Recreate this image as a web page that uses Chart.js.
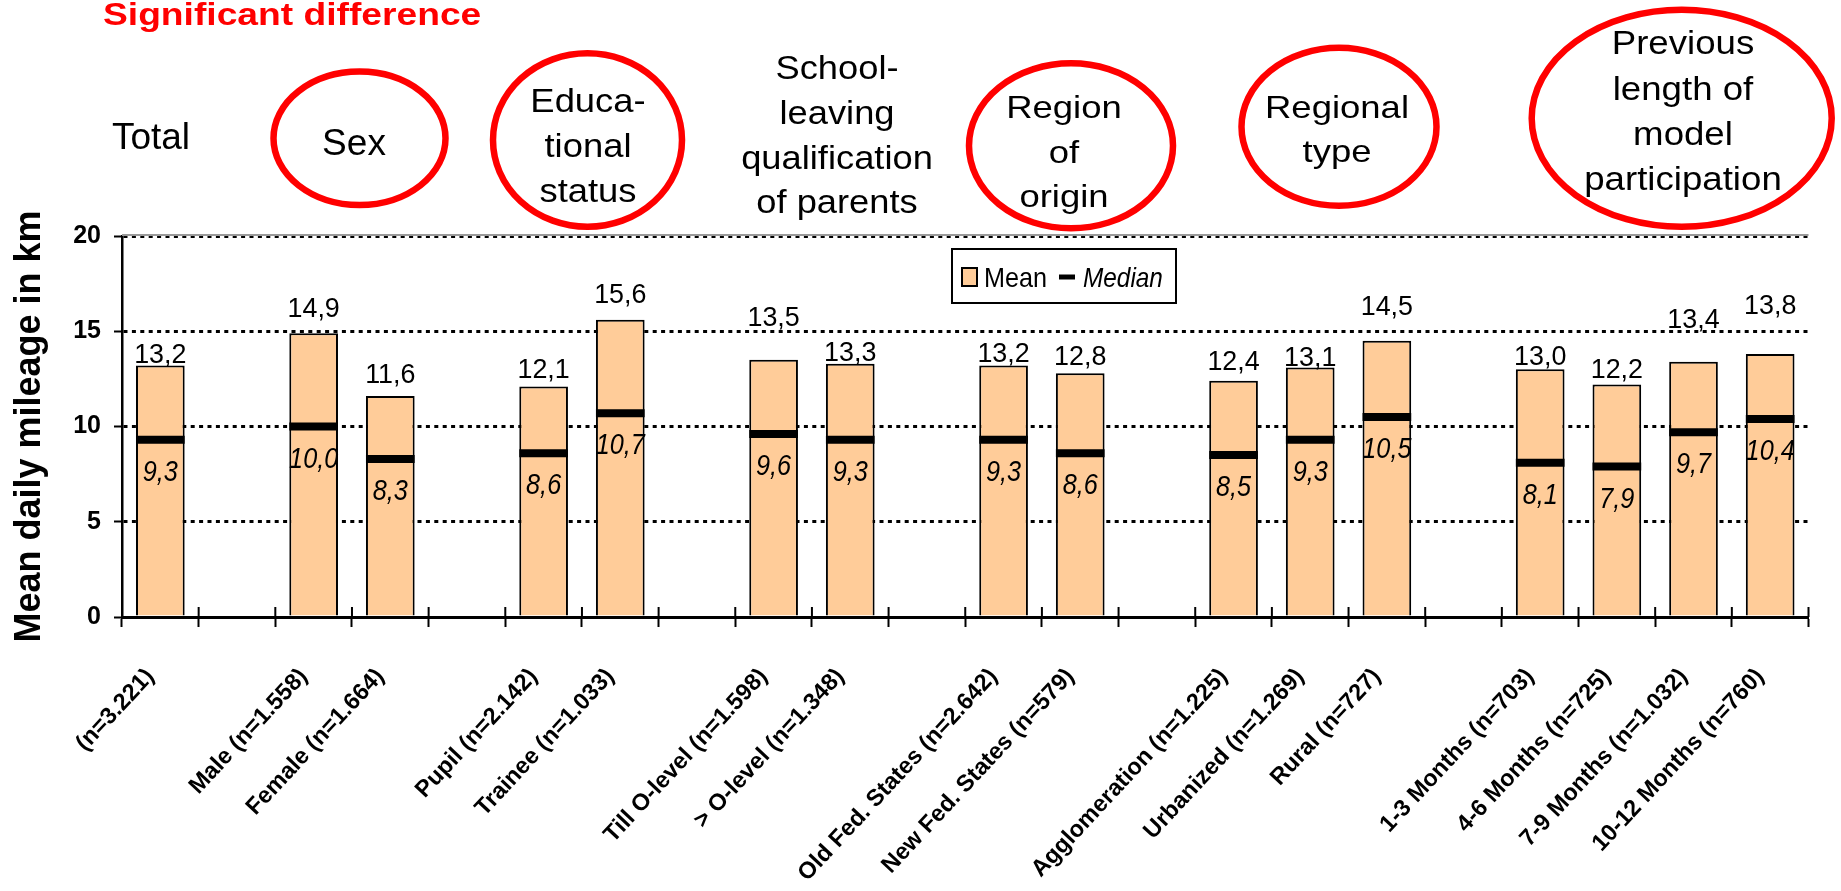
<!DOCTYPE html>
<html>
<head>
<meta charset="utf-8">
<script src="https://cdn.jsdelivr.net/npm/chart.js@4.4.1/dist/chart.umd.min.js"></script>
<style>
html, body { margin: 0; padding: 0; background: #fff; overflow: hidden; }
canvas { display: block; }
</style>
</head>
<body>
<canvas id="chart" width="1841" height="891"></canvas>
<script>
// ---- data -------------------------------------------------------------
const categories = [
  '(n=3.221)', '',
  'Male (n=1.558)', 'Female (n=1.664)', '',
  'Pupil (n=2.142)', 'Trainee (n=1.033)', '',
  'Till O-level (n=1.598)', '> O-level (n=1.348)', '',
  'Old Fed. States (n=2.642)', 'New Fed. States (n=579)', '',
  'Agglomeration (n=1.225)', 'Urbanized (n=1.269)', 'Rural (n=727)', '',
  '1-3 Months (n=703)', '4-6 Months (n=725)', '7-9 Months (n=1.032)', '10-12 Months (n=760)'
];
const meanKm = [13.2, null, 14.9, 11.6, null, 12.1, 15.6, null, 13.5, 13.3, null,
                13.2, 12.8, null, 12.4, 13.1, 14.5, null, 13.0, 12.2, 13.4, 13.8];
const medianKm = [9.3, null, 10.0, 8.3, null, 8.6, 10.7, null, 9.6, 9.3, null,
                  9.3, 8.6, null, 8.5, 9.3, 10.5, null, 8.1, 7.9, 9.7, 10.4];
const yTicks = [0, 5, 10, 15, 20];

const groupHeaders = [
  ['Total'],
  ['Sex'],
  ['Educa-', 'tional', 'status'],
  ['School-', 'leaving', 'qualification', 'of parents'],
  ['Region', 'of', 'origin'],
  ['Regional', 'type'],
  ['Previous', 'length of', 'model', 'participation']
];
const significantGroup = [false, true, true, false, true, true, true];
const noteText = 'Significant difference';
const axisTitle = 'Mean daily mileage in km';
const legendNames = ['Mean', 'Median'];

// ---- layout & styling ---------------------------------------------------
const FONT = "'Liberation Sans', Arial, Helvetica, sans-serif";
const PEACH = '#FFCC99';
const RED = '#FF0000';

// gap (px) between a bar top and the baseline of its mean label
const meanLabelLift = [3, 0, 16, 13, 0, 8, 17, 0, 34, 3, 0, 4, 8, 0, 11, 1, 26, 0, 4, 7, 34, 40];

// header placement: centre x, line baselines, font size, horizontal scale
const headerLayout = [
  { cx: 151,  base: [149],               fs: 37, sx: 1.0 },
  { cx: 354,  base: [155],               fs: 37, sx: 1.0 },
  { cx: 588,  base: [112, 157, 202],     fs: 34, sx: 1.07 },
  { cx: 837,  base: [79, 124, 169, 213], fs: 33, sx: 1.1 },
  { cx: 1064, base: [118, 163, 207],     fs: 32, sx: 1.14 },
  { cx: 1337, base: [118, 162],          fs: 32, sx: 1.14 },
  { cx: 1683, base: [54, 100, 145, 190], fs: 33, sx: 1.11 }
];
// ring around a header: centre and radii (stroke centre line)
const ringLayout = [
  null,
  { cx: 359.5, cy: 138.3, rx: 86,   ry: 66.7 },
  { cx: 587.5, cy: 140,   rx: 94.5, ry: 86.7 },
  null,
  { cx: 1071,  cy: 145.8, rx: 102,  ry: 82.5 },
  { cx: 1339,  cy: 126.8, rx: 97.5, ry: 79 },
  { cx: 1681.7, cy: 118.3, rx: 150, ry: 108.5 }
];

function fmt(v) { return v.toFixed(1).replace('.', ','); }

function drawText(ctx, text, x, y, font, sx, align, color) {
  ctx.save();
  ctx.font = font;
  ctx.fillStyle = color || '#000';
  ctx.textBaseline = 'alphabetic';
  ctx.textAlign = align || 'center';
  ctx.translate(x, y);
  ctx.scale(sx, 1);
  ctx.fillText(text, 0, 0);
  ctx.restore();
}

// headers, rings, note, value labels and legend drawn around the plot
const decorPlugin = {
  id: 'decor',
  beforeDatasetsDraw(chart) {
    const { ctx, chartArea } = chart;
    // grey frame line along the top of the plot area
    ctx.save();
    ctx.strokeStyle = '#9a9a9a';
    ctx.lineWidth = 2;
    ctx.beginPath();
    ctx.moveTo(chartArea.left, chartArea.top - 1);
    ctx.lineTo(chartArea.right, chartArea.top - 1);
    ctx.stroke();
    ctx.restore();
  },
  afterDatasetsDraw(chart) {
    const { ctx } = chart;
    const y = chart.scales.y;
    const x = chart.scales.x;
    const bars = chart.getDatasetMeta(0).data;
    bars.forEach((bar, i) => {
      if (meanKm[i] == null) return;
      drawText(ctx, fmt(meanKm[i]), bar.x, bar.y - meanLabelLift[i], '28px ' + FONT, 0.96, 'center');
      const my = y.getPixelForValue(medianKm[i]);
      drawText(ctx, fmt(medianKm[i]), bar.x, my + 41, 'italic 29px ' + FONT, 0.87, 'center');
    });
    // category separators cross the axis line
    const n = categories.length;
    const step = (x.right - x.left) / n;
    ctx.save();
    ctx.strokeStyle = '#000';
    ctx.lineWidth = 2;
    ctx.beginPath();
    for (let i = 0; i <= n; i++) {
      const px = x.left + i * step;
      ctx.moveTo(px, x.top - 10);
      ctx.lineTo(px, x.top);
    }
    ctx.stroke();
    ctx.restore();
  },
  afterDraw(chart) {
    const { ctx } = chart;
    // note
    drawText(ctx, noteText, 103, 25, 'bold 31px ' + FONT, 1.2, 'left', RED);
    // group headers
    groupHeaders.forEach((lines, g) => {
      const L = headerLayout[g];
      lines.forEach((t, k) => {
        drawText(ctx, t, L.cx, L.base[k], L.fs + 'px ' + FONT, L.sx, 'center', '#000');
      });
      const r = ringLayout[g];
      if (significantGroup[g] && r) {
        ctx.save();
        ctx.strokeStyle = RED;
        ctx.lineWidth = 6.5;
        ctx.beginPath();
        ctx.ellipse(r.cx, r.cy, r.rx, r.ry, 0, 0, Math.PI * 2);
        ctx.stroke();
        ctx.restore();
      }
    });
    // legend
    ctx.save();
    ctx.fillStyle = '#fff';
    ctx.fillRect(952, 249, 224, 54);
    ctx.strokeStyle = '#000';
    ctx.lineWidth = 2;
    ctx.strokeRect(952, 249, 224, 54);
    ctx.fillStyle = PEACH;
    ctx.fillRect(962, 268, 15, 18);
    ctx.strokeRect(962, 268, 15, 18);
    ctx.lineWidth = 5;
    ctx.beginPath();
    ctx.moveTo(1059, 277);
    ctx.lineTo(1075, 277);
    ctx.stroke();
    ctx.restore();
    drawText(ctx, legendNames[0], 984, 287, '28px ' + FONT, 0.9, 'left');
    drawText(ctx, legendNames[1], 1083, 287, 'italic 28px ' + FONT, 0.87, 'left');
  }
};

new Chart(document.getElementById('chart'), {
  type: 'bar',
  data: {
    labels: categories,
    datasets: [
      {
        label: legendNames[0],
        data: meanKm,
        backgroundColor: PEACH,
        borderColor: '#000',
        borderWidth: 2,
        borderSkipped: 'start',
        categoryPercentage: 1,
        barPercentage: 0.635,
        order: 1
      },
      {
        type: 'line',
        label: legendNames[1],
        data: medianKm,
        showLine: false,
        pointStyle: 'line',
        pointRadius: (c) => {
          const bar = c.chart.getDatasetMeta(0).data[c.dataIndex];
          return bar && bar.width ? bar.width / 2 : 24.5;
        },
        pointBorderWidth: 8,
        pointBorderColor: '#000',
        pointBackgroundColor: '#000',
        order: 0
      }
    ]
  },
  plugins: [decorPlugin],
  options: {
    responsive: false,
    animation: false,
    events: [],
    layout: { padding: { top: 236, left: 0, right: 0, bottom: 0 } },
    plugins: { legend: { display: false }, tooltip: { enabled: false } },
    scales: {
      x: {
        grid: { display: true, drawOnChartArea: false, drawTicks: true, tickLength: 10,
                tickWidth: 2, tickColor: '#000', offset: true },
        border: { display: true, color: '#000', width: 3 },
        ticks: { autoSkip: false, minRotation: 47, maxRotation: 47, padding: 36, labelOffset: -10,
                 color: '#000', font: { family: FONT, size: 23.5, weight: 'bold' } },
        afterFit: (s) => { s.height = 274; }
      },
      y: {
        min: 0,
        max: 20,
        afterBuildTicks: (s) => { s.ticks = yTicks.map(v => ({ value: v })); },
        grid: {
          color: (c) => (c.tick && c.tick.value === 0 ? 'rgba(0,0,0,0)' : '#000'),
          lineWidth: 3,
          tickColor: '#000',
          tickWidth: 2,
          tickLength: 8
        },
        border: { display: true, color: '#000', width: 2.5, dash: [4, 4.4] },
        ticks: { padding: 13, color: '#000', font: { family: FONT, size: 25, weight: 'bold' } },
        title: {
          display: true,
          text: axisTitle,
          color: '#000',
          padding: { top: 8, bottom: 0 },
          font: { family: FONT, size: 36, weight: 'bold' }
        },
        afterFit: (s) => { s.width = 122; }
      }
    }
  }
});
</script>
</body>
</html>
